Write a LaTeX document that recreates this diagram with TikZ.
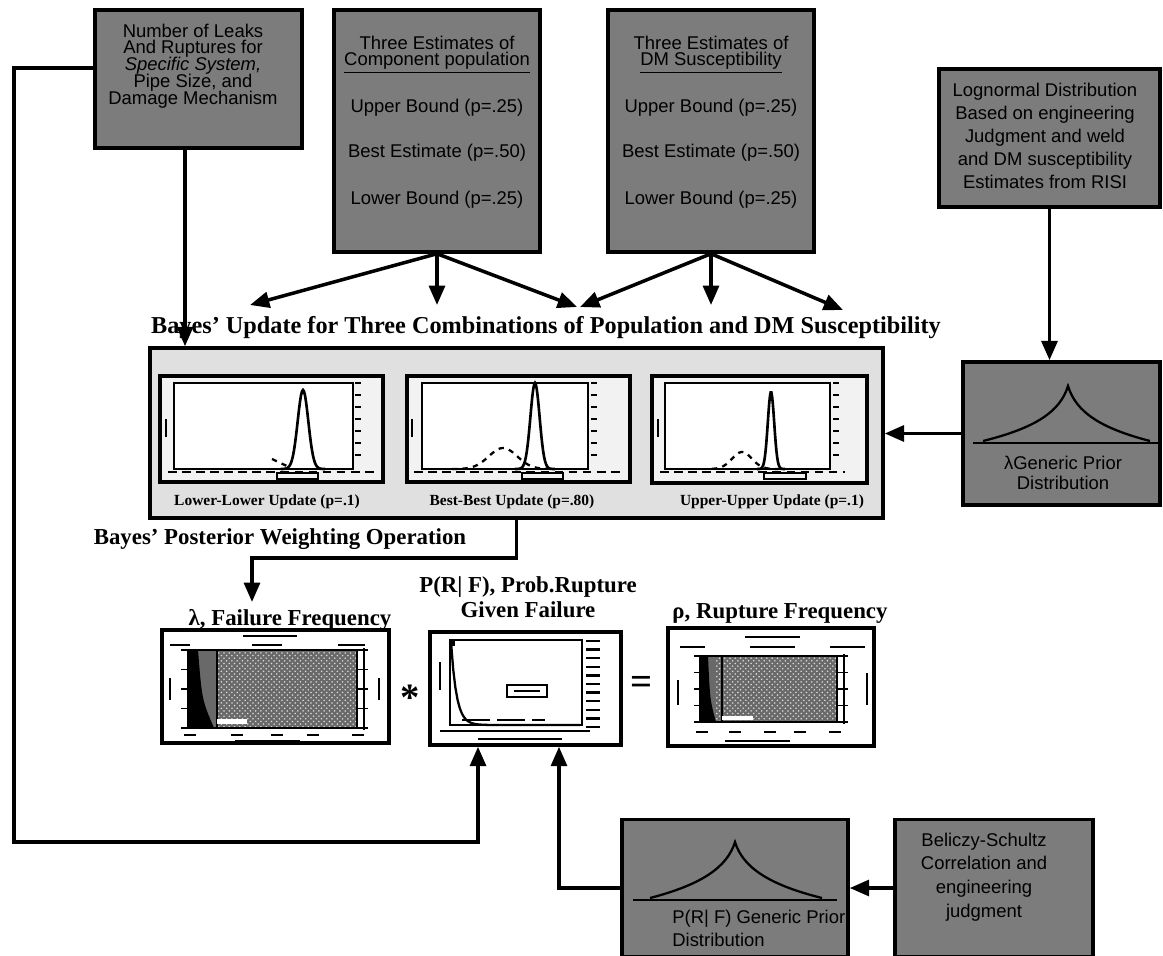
\documentclass[tikz,border=0pt]{standalone}
\usepackage{fontspec}
\setmainfont{Liberation Serif}
\setsansfont{Liberation Sans}
\usetikzlibrary{
	arrows.meta,
	calc,
	patterns,
	positioning
}
\definecolor{BoxGray}{RGB}{124,124,124}
\definecolor{PanelGray}{RGB}{224,224,224}
\definecolor{PlotGray}{RGB}{242,242,242}
\definecolor{HatchGray}{RGB}{105,105,105}
\newcommand{\tightlines}{\lineskiplimit=-9pt\relax}

\begin{document}
\begin{tikzpicture}[x=0.02cm, y=-0.02cm,
	darkbox/.style={draw, line width=2pt, fill=BoxGray, inner sep=0pt},
	boxtext/.style={font=\sffamily\fontsize{10.5}{13}\selectfont, align=center, inner sep=0pt},
	tightbox/.style={font=\sffamily\fontsize{10.5}{9.6}\selectfont\tightlines, align=center, inner sep=0pt},
	bigtitle/.style={font=\bfseries\fontsize{13}{14}\selectfont, inner sep=0pt},
	upd/.style={font=\bfseries\fontsize{8.8}{10}\selectfont, inner sep=0pt},
	panel/.style={draw, line width=2pt, fill=PlotGray, inner sep=0pt},
	chart/.style={draw, line width=2pt, fill=white, inner sep=0pt},
	flow/.style={line width=2pt, -{Triangle[length=11pt,width=9pt]}},
	smudge/.style={line width=1.6pt}
]
			\useasboundingbox (0,0) rectangle (1163,956);
			% input boxes
			\node[darkbox, minimum width=4.14cm, minimum height=2.76cm] (leaks) at (198.5,79) {};
			\node[tightbox] (leakstxt) at (193,66) {Number of Leaks\\And Ruptures for\\\textit{Specific System,}\\Pipe Size, and\\Damage Mechanism};
			\node[darkbox, minimum width=4.12cm, minimum height=4.84cm] (popul) at (437,131) {};
			\node[tightbox] (popultxt) at (437,122) {Three Estimates of\\\underline{Component population}\\[17pt]Upper Bound (p=.25)\\[16pt]Best Estimate (p=.50)\\[17pt]Lower Bound (p=.25)};
			\node[darkbox, minimum width=4.12cm, minimum height=4.84cm] (suscep) at (711,131) {};
			\node[tightbox] (susceptxt) at (711,122) {Three Estimates of\\\underline{DM Susceptibility}\\[17pt]Upper Bound (p=.25)\\[16pt]Best Estimate (p=.50)\\[17pt]Lower Bound (p=.25)};
			\node[darkbox, minimum width=4.42cm, minimum height=2.76cm] (lognorm) at (1049.5,138) {};
			\node[boxtext] (lognormtxt) at (1045,136) {Lognormal Distribution\\Based on engineering\\Judgment and weld\\and DM susceptibility\\Estimates from RISI};
			% lambda generic prior
			\node[darkbox, minimum width=3.94cm, minimum height=2.86cm] (lprior) at (1061.5,433.5) {};
			\draw[line width=1.2pt] (973,443) -- (1158,443);
			\draw[line width=1.3pt] (983,441) .. controls (1035,428) and (1060,412) .. (1068,386)
				.. controls (1076,412) and (1100,428) .. (1150,441);
			\node[boxtext, font=\sffamily\fontsize{10.5}{11.3}\selectfont] (lpriortxt) at (1063,473) {λGeneric Prior\\Distribution};
			% Bayes update
			\node[bigtitle, font=\bfseries\fontsize{13.8}{15}\selectfont] (bayestitle) at (546,328) {Bayes' Update for Three Combinations of Population and DM Susceptibility};
			\node[draw, line width=2pt, fill=PanelGray, minimum width=14.66cm, minimum height=3.4cm, inner sep=0pt] (bayes) at (516.5,433) {};
			\node[panel, minimum width=4.46cm, minimum height=2.12cm] (pnlA) at (271.5,429) {};
			\node[panel, minimum width=4.46cm, minimum height=2.12cm] (pnlB) at (518.5,429) {};
			\node[panel, minimum width=4.30cm, minimum height=2.14cm] (pnlC) at (759.5,429.5) {};
			% lower-lower
			\draw[line width=1pt, fill=white] (174,383) rectangle (353,469);
			\foreach \y in {383,395,407,419,431,443,455} \draw[line width=1.2pt] (355,\y) -- (361,\y);
			\draw[line width=1.4pt] (166,419) -- (166,437);
			\draw[line width=1.3pt, dash pattern=on 5pt off 3pt] (168,472) -- (378,472);
			\draw[line width=0.8pt] (277,473) rectangle (318,479);
			\draw[line width=1.5pt] plot[domain=281:325, samples=45] (\x,{469-79*exp(-((\x-303)/7.5)^2)});
			\draw[line width=1.3pt, dashed] (272,459) -- (289,467);
			% best-best
			\draw[line width=1pt, fill=white] (422,383) rectangle (588,469);
			\foreach \y in {383,395,407,419,431,443,455} \draw[line width=1.2pt] (591,\y) -- (597,\y);
			\draw[line width=1.4pt] (412,419) -- (412,437);
			\draw[line width=1.3pt, dash pattern=on 5pt off 3pt] (414,472) -- (620,472);
			\draw[line width=0.8pt] (522,473) rectangle (563,479);
			\draw[line width=1.3pt, dashed] plot[domain=452:548, samples=50] (\x,{469-21*exp(-((\x-503)/20)^2)});
			\draw[line width=1.5pt] plot[domain=515:555, samples=45] (\x,{469-86*exp(-((\x-535)/6.5)^2)});
			% upper-upper
			\draw[line width=1pt, fill=white] (665,383) rectangle (830,469);
			\foreach \y in {383,395,407,419,431,443,455} \draw[line width=1.2pt] (833,\y) -- (839,\y);
			\draw[line width=1.4pt] (658,419) -- (658,437);
			\draw[line width=1.3pt, dash pattern=on 5pt off 3pt] (660,472) -- (845,472);
			\draw[line width=0.8pt] (764,473) rectangle (806,479);
			\draw[line width=1.3pt, dashed] plot[domain=712:778, samples=40] (\x,{469-17*exp(-((\x-742)/14)^2)});
			\draw[line width=1.5pt] plot[domain=757:785, samples=40] (\x,{469-77*exp(-((\x-771)/4.5)^2)});
			\node[upd] (labA) at (267,502) {Lower-Lower Update (p=.1)};
			\node[upd] (labB) at (512,502) {Best-Best Update (p=.80)};
			\node[upd] (labC) at (772,502) {Upper-Upper Update (p=.1)};
			\node[bigtitle] (posttitle) at (280,539) {Bayes' Posterior Weighting Operation};
			% results
			\node[bigtitle] (lamtitle) at (290,620) {λ, Failure Frequency};
			\node[bigtitle, align=center] (prftitle) at (528,597) {P(R| F), Prob.Rupture\\Given Failure};
			\node[bigtitle] (rhotitle) at (780,613) {ρ, Rupture Frequency};
			% failure frequency chart
			\node[chart, minimum width=4.54cm, minimum height=2.26cm] (lamchart) at (275.5,686.5) {};
			\fill[HatchGray] (198,650) rectangle (357,728);
			\fill[pattern=crosshatch dots, pattern color=white!85!black] (217,650) rectangle (357,728);
			\fill[black] (188,650) -- (198,650) .. controls (202,700) .. (214,728) -- (188,728) -- cycle;
			\draw[line width=0.8pt] (188,650) rectangle (357,728);
			\draw[line width=0.8pt] (217,650) -- (217,728);
			\fill[white] (217,719) rectangle (247,724);
			\foreach \y in {650,669.5,689,708.5,728} {
				\draw[line width=1pt] (181,\y) -- (188,\y);
				\draw[line width=1pt] (357,\y) -- (368,\y);
			}
			\draw[line width=1pt] (364,648) -- (364,730);
			\draw[smudge] (243,636) -- (297,636);
			\draw[smudge] (170,645) -- (190,645);
			\draw[smudge] (252,645) -- (282,645);
			\draw[smudge] (338,645) -- (365,645);
			\foreach \x in {190,237,277,313,358} \draw[smudge] (\x-6,735) -- (\x+6,735);
			\draw[line width=1.2pt] (235,741) -- (300,741);
			\draw[smudge] (170,678) -- (170,700);
			\draw[smudge] (379,678) -- (379,700);
			\node[font=\bfseries\fontsize{22}{22}\selectfont, inner sep=0pt] (times) at (410,698) {*};
			% rupture probability chart
			\node[chart, minimum width=3.82cm, minimum height=2.26cm] (prfchart) at (525.5,688.5) {};
			\draw[line width=1pt] (450,640) rectangle (582,725);
			\fill[black] (450,640) rectangle (455,646);
			\draw[line width=1.3pt] plot[domain=451:580, samples=60] (\x,{725-83*exp(-(\x-451)/5.5)});
			\draw[line width=1.2pt] (507,685) rectangle (547,697);
			\draw[line width=1.2pt] (514,691) -- (540,691);
			\foreach \i in {0,...,10} \draw[line width=1.4pt] (586,641+8.6*\i) -- (600,641+8.6*\i);
			\draw[line width=1pt] (462,720) -- (490,720);
			\draw[line width=1pt] (497,720) -- (525,720);
			\draw[line width=1pt] (532,720) -- (545,720);
			\draw[line width=1.2pt] (440,731) -- (590,731);
			\draw[line width=1.2pt] (478,739) -- (562,739);
			\draw[smudge] (440,662) -- (440,690);
			\node[font=\bfseries\fontsize{22}{22}\selectfont, inner sep=0pt] (equals) at (642,685) {=};
			% rupture frequency chart
			\node[chart, minimum width=4.12cm, minimum height=2.36cm] (rhochart) at (771,687) {};
			\fill[HatchGray] (708,656) rectangle (837,722);
			\fill[pattern=crosshatch dots, pattern color=white!85!black] (715,656) rectangle (837,722);
			\fill[black] (700,656) -- (708,656) .. controls (710,700) .. (716,722) -- (700,722) -- cycle;
			\draw[line width=0.8pt] (700,656) rectangle (837,722);
			\draw[line width=0.8pt] (722,656) -- (722,722);
			\fill[white] (722,716) rectangle (753,720);
			\foreach \y in {656,672.5,689,705.5,722} {
				\draw[line width=1pt] (694,\y) -- (700,\y);
				\draw[line width=1pt] (837,\y) -- (848,\y);
			}
			\draw[line width=1pt] (844,654) -- (844,724);
			\draw[smudge] (745,637) -- (800,637);
			\draw[smudge] (680,647) -- (705,647);
			\draw[smudge] (750,647) -- (795,647);
			\draw[smudge] (830,647) -- (865,647);
			\foreach \x in {702,735,770,800,835} \draw[smudge] (\x-6,732) -- (\x+6,732);
			\draw[line width=1.2pt] (725,741) -- (790,741);
			\draw[smudge] (678,680) -- (678,705);
			\draw[smudge] (867,673) -- (867,705);
			% rupture given failure prior
			\node[darkbox, minimum width=4.52cm, minimum height=2.74cm] (fprior) at (735,888) {};
			\draw[line width=1.2pt] (633,900) -- (837,900);
			\draw[line width=1.3pt] (650,898) .. controls (700,885) and (727,868) .. (735,842)
				.. controls (743,868) and (770,885) .. (822,898);
			\node[boxtext, align=left, anchor=west] (fpriortxt) at (672,928) {P(R| F) Generic Prior\\Distribution};
			\node[darkbox, minimum width=3.96cm, minimum height=2.74cm] (beliczy) at (994,888) {};
			\node[boxtext, font=\sffamily\fontsize{10.5}{13.5}\selectfont] (beliczytxt) at (984,877) {Beliczy-Schultz\\Correlation and\\engineering\\judgment};
			% connectors
			\coordinate (popL) at (250,305);
			\coordinate (popM) at (437,305);
			\coordinate (popR) at (577,307);
			\coordinate (susL) at (580,307);
			\coordinate (susM) at (711,305);
			\coordinate (susR) at (843,310);
			\coordinate (lamtip) at (252,602);
			\coordinate (fbcorner) at (14,842);
			\foreach \t in {popL,popM,popR} \draw[flow] (popul.south) -- (\t);
			\foreach \t in {susL,susM,susR} \draw[flow] (suscep.south) -- (\t);
			\draw[flow] ([xshift=-0.27cm]leaks.south) -- ([xshift=-0.27cm]leaks.south |- bayes.north);
			\draw[flow] (lognorm.south) -- (lognorm.south |- lprior.north);
			\draw[flow] (lprior.west) -- (lprior.west -| bayes.east);
			\draw[flow] (bayes.south) -- ++(0,38) -| (lamtip);
			\draw[flow] ([yshift=0.22cm]leaks.west) -| (fbcorner) -| ([xshift=-0.95cm]prfchart.south);
			\draw[flow] (fprior.west) -| ([xshift=0.67cm]prfchart.south);
			\draw[flow] (beliczy.west) -- (fprior.east);
		\end{tikzpicture}
\end{document}
